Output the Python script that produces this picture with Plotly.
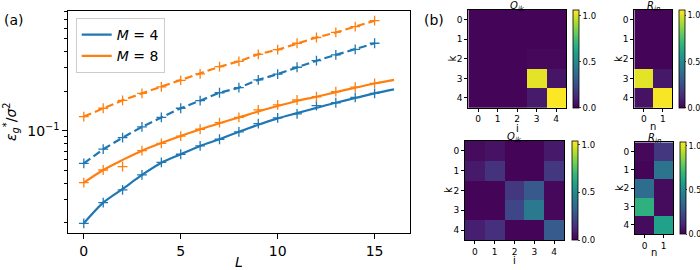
import plotly.graph_objects as go

# ---------------- data (panel a) ----------------
L_theory = list(range(17))
L_sim = list(range(16))
m4_theory = [0.0198, 0.0284, 0.0361, 0.0461, 0.0571, 0.0662, 0.0766, 0.0861, 0.098,
             0.111, 0.124, 0.136, 0.149, 0.163, 0.177, 0.192, 0.206]
m4_sim = [0.0198, 0.0284, 0.0355, 0.0461, 0.0575, 0.0662, 0.0766, 0.0861, 0.098,
          0.113, 0.125, 0.134, 0.155, 0.163, 0.179, 0.192]
m8_theory = [0.0403, 0.0503, 0.0600, 0.0705, 0.0805, 0.091, 0.1025, 0.114, 0.126,
             0.140, 0.154, 0.168, 0.181, 0.196, 0.212, 0.228, 0.243]
m8_sim = [0.0403, 0.0503, 0.0533, 0.0705, 0.080, 0.091, 0.1025, 0.115, 0.126,
          0.144, 0.157, 0.171, 0.181, 0.198, 0.214, 0.229]
m4_dashed = [0.0565, 0.0723, 0.0885, 0.107, 0.126, 0.148, 0.169, 0.194, 0.212,
             0.243, 0.269, 0.303, 0.340, 0.376, 0.415, 0.461]
m8_dashed = [0.128, 0.148, 0.170, 0.192, 0.215, 0.241, 0.270, 0.306, 0.336,
             0.380, 0.412, 0.461, 0.510, 0.557, 0.616, 0.684]
x_ticks = [0, 5, 10, 15]
y_major = [0.1]
y_major_text = ["10<sup>\u22121</sup>"]
y_minor = [0.02, 0.03, 0.04, 0.05, 0.06, 0.07, 0.08, 0.09,
           0.2, 0.3, 0.4, 0.5, 0.6, 0.7, 0.8]

# ---------------- data (panel b) ----------------
k_idx = [0, 1, 2, 3, 4]
i_idx = [0, 1, 2, 3, 4]
n_idx = [0, 1]
q_top = [[0.01, 0.01, 0.01, 0.01, 0.01],
         [0.01, 0.01, 0.01, 0.01, 0.01],
         [0.01, 0.01, 0.01, 0.02, 0.02],
         [0.01, 0.01, 0.01, 1.02, 0.06],
         [0.01, 0.01, 0.01, 0.08, 1.06]]
r_top = [[0.01, 0.01],
         [0.01, 0.01],
         [0.01, 0.01],
         [1.02, 0.07],
         [0.05, 1.05]]
q_bot = [[0.03, 0.05, 0.01, 0.01, 0.07],
         [0.07, 0.15, 0.01, 0.01, 0.17],
         [0.01, 0.01, 0.17, 0.29, 0.02],
         [0.01, 0.01, 0.22, 0.42, 0.02],
         [0.09, 0.14, 0.01, 0.01, 0.30]]
r_bot = [[0.02, 0.17],
         [0.01, 0.40],
         [0.37, 0.03],
         [0.66, 0.03],
         [0.03, 0.59]]
cb_vals = [0.0, 0.5, 1.0]
cb_text = ["0.0", "0.5", "1.0"]

BLUE = "#1f77b4"
ORANGE = "#ff7f0e"
FONT = "DejaVu Sans"
W, H = 700, 270


def px(x):
    return x / W


def py(y):
    return 1 - y / H


fig = go.Figure()

# panel a traces
for col, theo, sim, dsh, name in [(BLUE, m4_theory, m4_sim, m4_dashed, "<i>M</i> = 4"),
                                  (ORANGE, m8_theory, m8_sim, m8_dashed, "<i>M</i> = 8")]:
    fig.add_trace(go.Scatter(x=L_theory, y=theo, mode="lines", name=name,
                             line=dict(color=col, width=2.2, shape="spline", smoothing=0.8),
                             xaxis="x", yaxis="y", showlegend=True))
    fig.add_trace(go.Scatter(x=L_sim, y=sim, mode="markers", showlegend=False,
                             marker=dict(symbol="cross-thin", size=7,
                                         line=dict(color=col, width=1.3)),
                             xaxis="x", yaxis="y"))
    fig.add_trace(go.Scatter(x=L_sim, y=dsh, mode="lines+markers", showlegend=False,
                             line=dict(color=col, width=2.2, dash="8px,4px"),
                             marker=dict(symbol="cross-thin", size=7,
                                         line=dict(color=col, width=1.3)),
                             xaxis="x", yaxis="y"))

# panel b heatmaps
heat_specs = [
    # z, x, xaxis, yaxis, zmax, cb x(px), cb top, cb bottom, ticklen, font
    (q_top, i_idx, "x2", "y2", 1.062, 573.3, 10.0, 107.7, 2, 8.5),
    (r_top, n_idx, "x3", "y3", 1.062, 678.5, 10.0, 107.7, 1, 8),
    (q_bot, i_idx, "x4", "y4", 1.04, 572.0, 141.0, 240.0, 2, 8.5),
    (r_bot, n_idx, "x5", "y5", 1.04, 679.5, 142.3, 234.0, 1, 8),
]
for z, xs, xa, ya, zmax, cbx, cbt, cbb, tl, fs in heat_specs:
    fig.add_trace(go.Heatmap(
        z=z, x=xs, y=k_idx, xaxis=xa, yaxis=ya, colorscale="Viridis",
        zmin=0, zmax=zmax,
        colorbar=dict(x=px(cbx), xanchor="left", xpad=0, ypad=0,
                      y=py((cbt + cbb) / 2), yanchor="middle",
                      len=(cbb - cbt) / H, lenmode="fraction",
                      thickness=6, thicknessmode="pixels",
                      outlinewidth=0.8, outlinecolor="black",
                      tickmode="array", tickvals=cb_vals, ticktext=cb_text,
                      ticks="outside", ticklen=tl, tickwidth=0.8,
                      tickfont=dict(size=fs, family=FONT, color="black"))))

axis_common = dict(showline=True, mirror=True, linecolor="black", linewidth=1,
                   ticks="outside", tickcolor="black", showgrid=False, zeroline=False)

heat_ax = dict(showline=True, mirror=True, linecolor="black", linewidth=0.8,
               ticks="outside", ticklen=3, tickwidth=0.8, tickcolor="black",
               showgrid=False, zeroline=False, automargin=False,
               tickfont=dict(size=9, family=FONT, color="black"))

layout = dict(
    width=W, height=H, margin=dict(l=0, r=0, t=0, b=0, autoexpand=False),
    paper_bgcolor="white", plot_bgcolor="white",
    font=dict(family=FONT, color="black"),
    xaxis=dict(domain=[px(68.3), px(409.5)], range=[-0.8, 16.8], anchor="y",
               tickmode="array", tickvals=x_ticks, ticklen=5, tickwidth=1,
               tickfont=dict(size=14), automargin=False, **axis_common),
    yaxis=dict(domain=[py(233.0), py(10.7)], type="log", range=[-1.777, -0.089],
               anchor="x", tickmode="array", tickvals=y_major, ticktext=y_major_text,
               ticklen=5, tickwidth=1, tickfont=dict(size=14), automargin=False,
               minor=dict(tickmode="array", tickvals=y_minor, ticks="outside",
                          ticklen=3, tickwidth=0.8, tickcolor="black", showgrid=False),
               **axis_common),
    legend=dict(x=px(75.7), y=py(18), xanchor="left", yanchor="top",
                bgcolor="white", bordercolor="#cccccc", borderwidth=1,
                font=dict(size=14, family=FONT), tracegroupgap=0,
                itemwidth=30),
    xaxis2=dict(domain=[px(468.3), px(566.0)], anchor="y2", tickmode="array",
                tickvals=i_idx, **heat_ax),
    yaxis2=dict(domain=[py(107.7), py(10.0)], anchor="x2", autorange="reversed",
                tickmode="array", tickvals=k_idx, **heat_ax),
    xaxis3=dict(domain=[px(634.3), px(672.3)], anchor="y3", tickmode="array",
                tickvals=n_idx, **heat_ax),
    yaxis3=dict(domain=[py(107.7), py(10.0)], anchor="x3", autorange="reversed",
                tickmode="array", tickvals=k_idx, **heat_ax),
    xaxis4=dict(domain=[px(465.0), px(564.0)], anchor="y4", tickmode="array",
                tickvals=i_idx, **heat_ax),
    yaxis4=dict(domain=[py(240.0), py(141.0)], anchor="x4", autorange="reversed",
                tickmode="array", tickvals=k_idx, **heat_ax),
    xaxis5=dict(domain=[px(635.0), px(673.0)], anchor="y5", tickmode="array",
                tickvals=n_idx, **heat_ax),
    yaxis5=dict(domain=[py(234.0), py(142.3)], anchor="x5", autorange="reversed",
                tickmode="array", tickvals=k_idx, **heat_ax),
)
fig.update_layout(**layout)

annots = [
    dict(text="(a)", x=px(14), y=py(20), font=dict(size=14)),
    dict(text="(b)", x=px(434), y=py(20), font=dict(size=14)),
    dict(text="<i>L</i>", x=px(239), y=py(262), font=dict(size=14)),
    dict(text="<i>\u03b5</i><sub><i>g</i></sub><sup>*</sup>/<i>\u03c3</i><sup>2</sup>",
         x=px(11), y=py(122), textangle=-90, font=dict(size=14)),
    dict(text="<i>Q<sub>ik</sub></i>", x=px(517), y=py(6.5), font=dict(size=10)),
    dict(text="<i>R<sub>in</sub></i>", x=px(653), y=py(6.5), font=dict(size=10)),
    dict(text="<i>Q<sub>ik</sub></i>", x=px(514), y=py(137.5), font=dict(size=10)),
    dict(text="<i>R<sub>in</sub></i>", x=px(654), y=py(138), font=dict(size=10)),
    # heatmap axis titles
    dict(text="i", x=px(517), y=py(128), font=dict(size=10)),
    dict(text="n", x=px(653), y=py(126.5), font=dict(size=10)),
    dict(text="k", x=px(451.5), y=py(59), font=dict(size=10), textangle=-90),
    dict(text="k", x=px(618), y=py(59), font=dict(size=10), textangle=-90),
    dict(text="i", x=px(514.5), y=py(260), font=dict(size=10)),
    dict(text="n", x=px(654), y=py(252), font=dict(size=10)),
    dict(text="k", x=px(448.5), y=py(190.5), font=dict(size=10), textangle=-90),
    dict(text="k", x=px(619), y=py(188), font=dict(size=10), textangle=-90),
]
for a in annots:
    fig.add_annotation(xref="paper", yref="paper", showarrow=False,
                       xanchor="center", yanchor="middle", **a)

fig.write_html("out.html", config={"displayModeBar": False},
               post_script="document.body.style.margin='0px';document.body.style.overflow='hidden';")
